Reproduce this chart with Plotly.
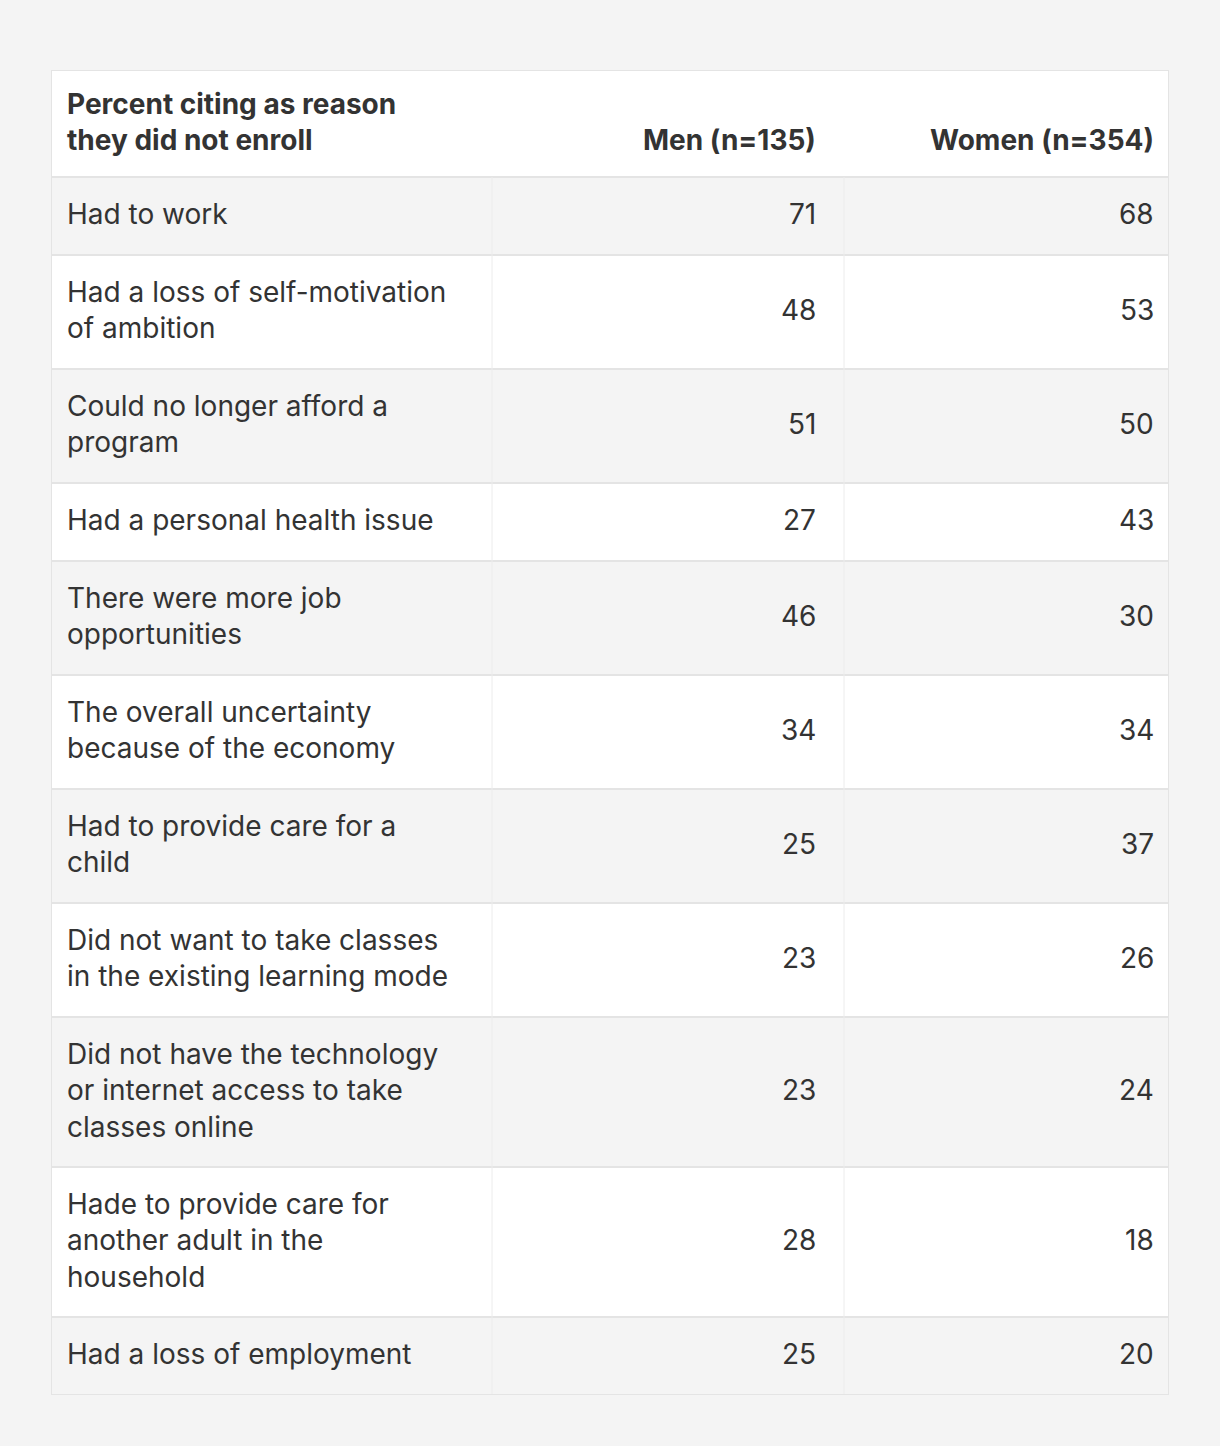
import textwrap
import plotly.graph_objects as go

# ---------------- data ----------------
header_label = "Percent citing as reason they did not enroll"
group_labels = ["Men (n=135)", "Women (n=354)"]
reasons = [
    "Had to work",
    "Had a loss of self-motivation of ambition",
    "Could no longer afford a program",
    "Had a personal health issue",
    "There were more job opportunities",
    "The overall uncertainty because of the economy",
    "Had to provide care for a child",
    "Did not want to take classes in the existing learning mode",
    "Did not have the technology or internet access to take classes online",
    "Hade to provide care for another adult in the household",
    "Had a loss of employment",
]
men = [71, 48, 51, 27, 46, 34, 25, 23, 23, 28, 25]
women = [68, 53, 50, 43, 30, 34, 37, 26, 24, 18, 20]

# ---------------- style ----------------
FONT = "Inter"
FS = 28
HFS = 28
TXT = "#333333"
PAGE_BG = "#f4f4f4"
ALT_BG = "#f4f4f4"
WHITE = "#ffffff"
BORDER = "#e4e4e4"
VSEP = "#ececec"
LINE_H = 36
ROW_PAD = 42
HEADER_H = 107
COL_EDGES = [0, 441, 793, 1118]
ANN_PAD = 3
TEXT_LEFT = 17 - ANN_PAD
RIGHT_PAD = [29 - ANN_PAD, 16 - ANN_PAD]
Y_SHIFT = 2

W = COL_EDGES[-1]

wrapped = [textwrap.wrap(r, 29, break_on_hyphens=False) for r in reasons]
header_lines = textwrap.wrap(header_label, 25)
heights = [ROW_PAD + LINE_H * len(w) for w in wrapped]

tops = []
y = HEADER_H
for h in heights:
    tops.append(y)
    y += h
TOTAL = y
centers = [t + h / 2 for t, h in zip(tops, heights)]

fig = go.Figure()

# row backgrounds (header + body)
fig.add_trace(go.Bar(
    orientation="h",
    y=[HEADER_H / 2] + centers,
    x=[W] * (len(reasons) + 1),
    base=0,
    width=[HEADER_H] + heights,
    marker=dict(color=[WHITE] + [ALT_BG if i % 2 == 0 else WHITE for i in range(len(reasons))],
                line=dict(width=0)),
    hoverinfo="skip",
    showlegend=False,
))

shapes = []
# horizontal separators
for t in tops:
    shapes.append(dict(type="line", xref="x", yref="y", x0=0, x1=W, y0=t, y1=t,
                       line=dict(color=BORDER, width=2)))
# vertical separators (body only)
for xe in COL_EDGES[1:-1]:
    shapes.append(dict(type="line", xref="x", yref="y", x0=xe, x1=xe, y0=HEADER_H, y1=TOTAL,
                       line=dict(color=VSEP, width=1)))
# outer border
shapes.append(dict(type="rect", xref="x", yref="y", x0=0, x1=W, y0=0, y1=TOTAL,
                   line=dict(color=BORDER, width=2), fillcolor="rgba(0,0,0,0)"))

annotations = []
font = dict(family=FONT, size=FS, color=TXT)
hfont = dict(family=FONT, size=HFS, color=TXT)
# header
annotations.append(dict(
    x=TEXT_LEFT, y=HEADER_H / 2, xref="x", yref="y", xanchor="left", yanchor="middle",
    align="left", showarrow=False, font=hfont, yshift=Y_SHIFT,
    text="<br>".join("<b>%s</b>" % l for l in header_lines)))
for j, lab in enumerate(group_labels):
    annotations.append(dict(
        x=COL_EDGES[j + 2] - RIGHT_PAD[j], y=HEADER_H / 2 + LINE_H / 2, xref="x", yref="y",
        xanchor="right", yanchor="middle", align="right", showarrow=False, font=hfont,
        yshift=Y_SHIFT, text="<b>%s</b>" % lab))
# body
for i, (lines, c) in enumerate(zip(wrapped, centers)):
    annotations.append(dict(
        x=TEXT_LEFT, y=c, xref="x", yref="y", xanchor="left", yanchor="middle",
        align="left", showarrow=False, font=font, yshift=Y_SHIFT, text="<br>".join(lines)))
    for j, vals in enumerate([men, women]):
        annotations.append(dict(
            x=COL_EDGES[j + 2] - RIGHT_PAD[j], y=c, xref="x", yref="y",
            xanchor="right", yanchor="middle", showarrow=False, font=font,
            yshift=Y_SHIFT, text=str(vals[i])))

fig.update_layout(
    width=1220, height=1446,
    margin=dict(l=51, r=51, t=70, b=51),
    paper_bgcolor=PAGE_BG, plot_bgcolor=PAGE_BG,
    xaxis=dict(range=[0, W], visible=False, fixedrange=True),
    yaxis=dict(range=[TOTAL, 0], visible=False, fixedrange=True),
    bargap=0,
    shapes=shapes,
    annotations=annotations,
    hovermode=False,
)

fig.write_html(
    "out.html",
    config={"displayModeBar": False},
    post_script="document.body.style.margin='0';document.body.style.overflow='hidden';",
)
